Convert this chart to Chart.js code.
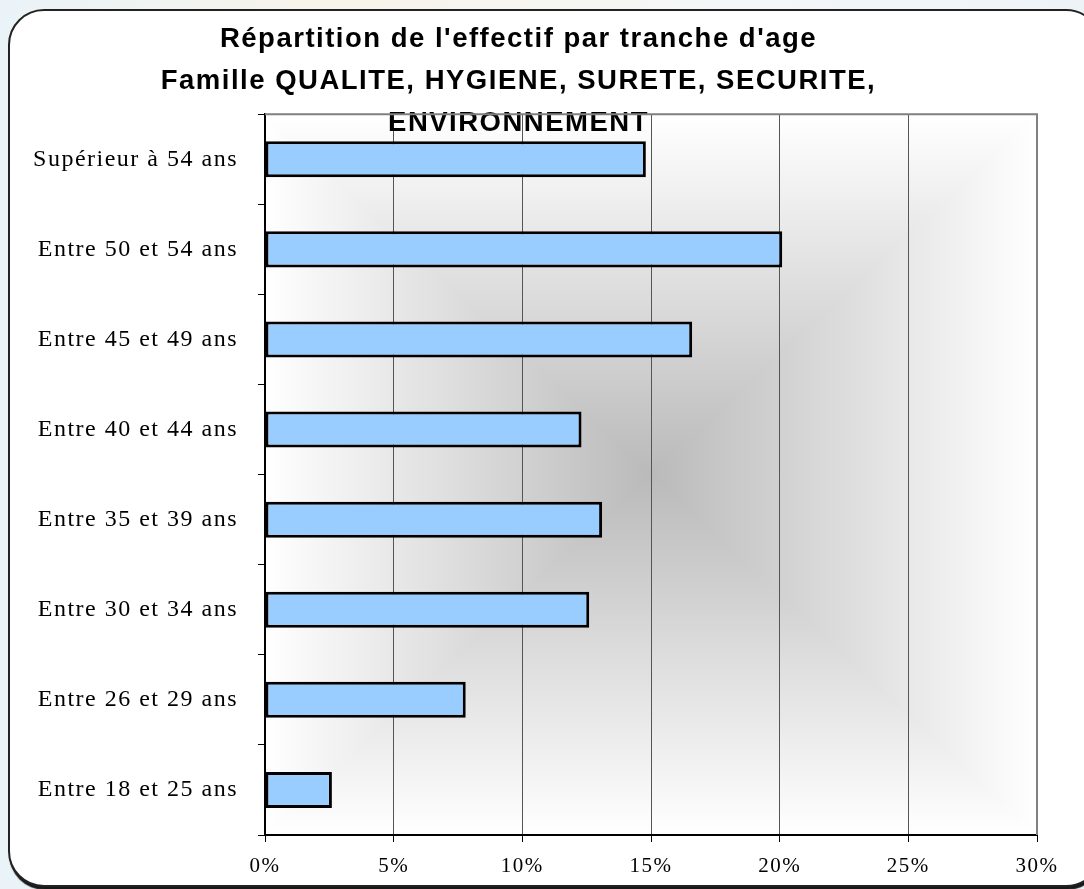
<!DOCTYPE html>
<html>
<head>
<meta charset="utf-8">
<script src="https://cdn.jsdelivr.net/npm/chart.js@4/dist/chart.umd.min.js"></script>
<style>
    html, body { margin: 0; padding: 0; }
    body {
        width: 1084px; height: 889px; overflow: hidden; position: relative;
        background: linear-gradient(90deg, #eaf3f8 0%, #f7f4ea 30%, #f4f6f8 70%, #eef3f7 100%);
    }
    #frame {
        position: absolute; left: 8px; top: 9px; width: 1090px; height: 874px;
        border: 2px solid #222; border-radius: 36px; background: #fff;
        box-shadow: 1px 3px 1px rgba(0, 0, 0, 0.9);
    }
    #chart { position: absolute; left: 0; top: 0; }
</style>
</head>
<body>
<div id="frame"></div>
<canvas id="chart" width="1084" height="889"></canvas>
<script>
const titleLines = [
    "Répartition de l'effectif par tranche d'age",
    "Famille QUALITE, HYGIENE, SURETE, SECURITE,",
    "ENVIRONNEMENT"
];
const ageGroups = [
    "Supérieur à 54 ans",
    "Entre 50 et 54 ans",
    "Entre 45 et 49 ans",
    "Entre 40 et 44 ans",
    "Entre 35 et 39 ans",
    "Entre 30 et 34 ans",
    "Entre 26 et 29 ans",
    "Entre 18 et 25 ans"
];
const shareValues = [14.8, 20.1, 16.6, 12.3, 13.1, 12.6, 7.8, 2.6];
const xTickMin = 0;
const xTickMax = 30;
const xTickStep = 5;

// spaced-out lettering like the original export
function setSpacing(chart) {
    chart.ctx.letterSpacing = "1.5px";
}

const plotBackground = {
    id: "plotBackground",
    beforeUpdate: setSpacing,
    beforeDraw(chart) {
        setSpacing(chart);
        const { ctx, chartArea: a } = chart;
        const cx = (a.left + a.right) / 2;
        const cy = (a.top + a.bottom) / 2;
        const edge = "#ffffff";
        const mid = "#bababa";
        // rectangular "from centre" gradient, one triangle per side
        const parts = [
            [[a.left, a.top], [a.right, a.top], [cx, a.top]],
            [[a.right, a.top], [a.right, a.bottom], [a.right, cy]],
            [[a.right, a.bottom], [a.left, a.bottom], [cx, a.bottom]],
            [[a.left, a.bottom], [a.left, a.top], [a.left, cy]]
        ];
        ctx.save();
        parts.forEach(p => {
            const g = ctx.createLinearGradient(p[2][0], p[2][1], cx, cy);
            g.addColorStop(0, edge);
            g.addColorStop(1, mid);
            ctx.beginPath();
            ctx.moveTo(p[0][0], p[0][1]);
            ctx.lineTo(p[1][0], p[1][1]);
            ctx.lineTo(cx, cy);
            ctx.closePath();
            ctx.fillStyle = g;
            ctx.strokeStyle = g;
            ctx.lineWidth = 1.5;
            ctx.fill();
            ctx.stroke();
        });
        ctx.restore();
    },
    beforeDatasetsDraw(chart) {
        const { ctx, chartArea: a } = chart;
        ctx.save();
        ctx.strokeStyle = "#808080";
        ctx.lineWidth = 2;
        ctx.beginPath();
        ctx.moveTo(a.left, a.top);
        ctx.lineTo(a.right, a.top);
        ctx.lineTo(a.right, a.bottom);
        ctx.stroke();
        ctx.restore();
    }
};

new Chart(document.getElementById("chart"), {
    type: "bar",
    data: {
        labels: ageGroups,
        datasets: [{
            data: shareValues,
            backgroundColor: "#99ccff",
            borderColor: "#000000",
            borderWidth: 3,
            borderSkipped: false,
            barPercentage: 0.4,
            categoryPercentage: 1
        }]
    },
    options: {
        indexAxis: "y",
        responsive: false,
        animation: false,
        layout: { padding: { left: 0, right: 47, top: 0, bottom: 0 } },
        plugins: {
            legend: { display: false },
            tooltip: { enabled: false },
            title: {
                display: true,
                text: titleLines,
                color: "#000",
                font: { family: "'Liberation Sans', Arial, sans-serif", size: 27.5, weight: "bold", lineHeight: 1.53 },
                padding: { top: 18, bottom: -30 }
            }
        },
        scales: {
            x: {
                type: "linear",
                position: "bottom",
                min: xTickMin,
                max: xTickMax,
                ticks: {
                    stepSize: xTickStep,
                    color: "#000",
                    padding: 12,
                    font: { family: "'Liberation Serif', 'Times New Roman', serif", size: 21 },
                    callback: v => v + "%"
                },
                grid: { color: "#555", lineWidth: 1, tickLength: 7, tickColor: "#000" },
                border: { display: true, color: "#000", width: 2 },
                afterFit(scale) { scale.height = 54; }
            },
            y: {
                type: "category",
                ticks: {
                    color: "#000",
                    padding: 20,
                    font: { family: "'Liberation Serif', 'Times New Roman', serif", size: 24 }
                },
                grid: { drawOnChartArea: false, drawTicks: true, tickLength: 7, color: "#000", offset: true },
                border: { display: true, color: "#000", width: 2 },
                afterFit(scale) { scale.width = 265; }
            }
        }
    },
    plugins: [plotBackground]
});
</script>
</body>
</html>
